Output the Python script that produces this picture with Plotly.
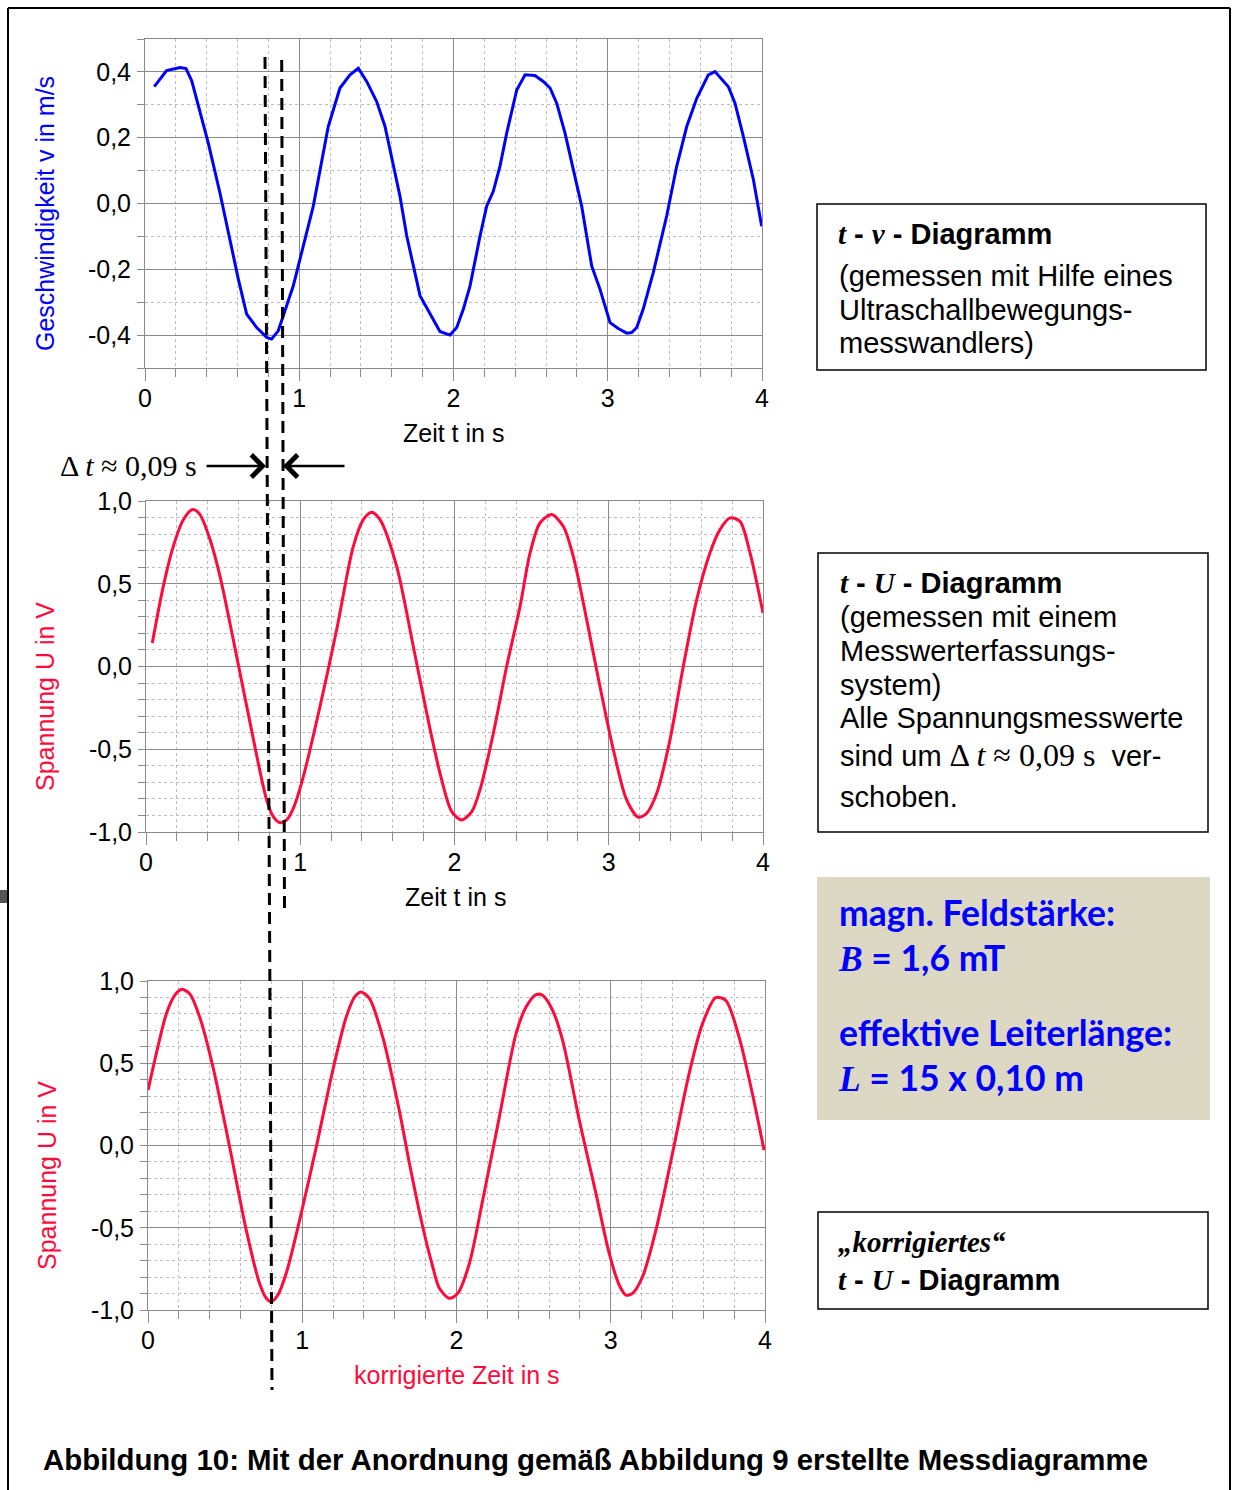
import plotly.graph_objects as go

W, H = 1236, 1490
SANS = "Liberation Sans, Arial, sans-serif"
SERIF = "Liberation Serif, Times New Roman, serif"
CAL = "Lato, Open Sans, sans-serif"
BLUE = "#0000ff"
RED = "#ff0a3c"

# ---------------- data ----------------
t_v = [0.06, 0.14, 0.227, 0.266, 0.303, 0.41, 0.486, 0.605, 0.659, 0.724, 0.789, 0.821, 0.864, 0.897,
       0.961, 1.091, 1.188, 1.264, 1.329, 1.383, 1.437, 1.502, 1.556, 1.653, 1.697, 1.783, 1.869, 1.912,
       1.977, 2.021, 2.064, 2.107, 2.172, 2.215, 2.258, 2.301, 2.345, 2.41, 2.464, 2.528, 2.582, 2.626,
       2.669, 2.723, 2.777, 2.831, 2.896, 2.95, 3.015, 3.068, 3.123, 3.155, 3.188, 3.23, 3.295, 3.382,
       3.447, 3.512, 3.577, 3.652, 3.695, 3.782, 3.825, 3.879, 3.944, 3.998]
v = [0.355, 0.404, 0.413, 0.41, 0.373, 0.184, 0.032, -0.23, -0.336, -0.377, -0.407, -0.412, -0.387, -0.341,
     -0.251, -0.008, 0.234, 0.351, 0.391, 0.411, 0.371, 0.31, 0.234, 0.022, -0.099, -0.28, -0.352, -0.389,
     -0.4, -0.377, -0.321, -0.251, -0.099, -0.008, 0.037, 0.113, 0.214, 0.345, 0.391, 0.389, 0.371, 0.351,
     0.305, 0.214, 0.103, -0.008, -0.19, -0.261, -0.362, -0.38, -0.394, -0.392, -0.377, -0.321, -0.21, -0.038,
     0.113, 0.234, 0.32, 0.391, 0.401, 0.355, 0.305, 0.204, 0.073, -0.069]

t_u = [0.041, 0.112, 0.177, 0.242, 0.303, 0.35, 0.415, 0.48, 0.566, 0.675, 0.782, 0.825, 0.869, 0.912,
       0.955, 1.02, 1.128, 1.236, 1.344, 1.409, 1.463, 1.517, 1.625, 1.733, 1.82, 1.906, 1.982, 2.047,
       2.112, 2.165, 2.252, 2.338, 2.425, 2.49, 2.554, 2.63, 2.705, 2.77, 2.857, 2.943, 3.03, 3.116, 3.192,
       3.246, 3.311, 3.397, 3.483, 3.57, 3.656, 3.721, 3.786, 3.851, 3.916, 4.0]
u = [0.142, 0.484, 0.726, 0.887, 0.948, 0.918, 0.767, 0.545, 0.162, -0.342, -0.806, -0.907, -0.944, -0.927,
     -0.857, -0.665, -0.242, 0.222, 0.726, 0.887, 0.932, 0.887, 0.605, 0.121, -0.282, -0.645, -0.877, -0.927,
     -0.877, -0.746, -0.403, 0.0, 0.363, 0.686, 0.867, 0.918, 0.847, 0.665, 0.283, -0.121, -0.504, -0.806, -0.911,
     -0.887, -0.766, -0.443, 0.0, 0.403, 0.686, 0.827, 0.898, 0.877, 0.686, 0.323]

t_k = [0.0, 0.054, 0.119, 0.173, 0.216, 0.27, 0.335, 0.421, 0.529, 0.637, 0.723, 0.767, 0.799, 0.842,
       0.896, 0.983, 1.091, 1.198, 1.285, 1.339, 1.382, 1.436, 1.522, 1.63, 1.695, 1.781, 1.846, 1.889,
       1.954, 2.008, 2.084, 2.17, 2.278, 2.386, 2.451, 2.516, 2.558, 2.623, 2.688, 2.796, 2.904, 2.99, 3.055,
       3.098, 3.141, 3.206, 3.293, 3.4, 3.508, 3.595, 3.681, 3.746, 3.832, 3.918, 3.994]
u_k = [0.336, 0.559, 0.801, 0.913, 0.949, 0.923, 0.781, 0.478, -0.008, -0.514, -0.838, -0.929, -0.95, -0.909,
       -0.777, -0.454, -0.008, 0.457, 0.781, 0.902, 0.933, 0.893, 0.659, 0.209, -0.109, -0.494, -0.737, -0.868,
       -0.929, -0.899, -0.716, -0.332, 0.174, 0.68, 0.842, 0.917, 0.913, 0.822, 0.639, 0.154, -0.291, -0.656, -0.848,
       -0.909, -0.899, -0.798, -0.514, -0.049, 0.437, 0.741, 0.899, 0.882, 0.659, 0.316, -0.029]

x_ticks = [0, 1, 2, 3, 4]
x_labels = ["0", "1", "2", "3", "4"]
v_ticks = [-0.4, -0.2, 0.0, 0.2, 0.4]
v_labels = ["-0,4", "-0,2", "0,0", "0,2", "0,4"]
u_ticks = [-1.0, -0.5, 0.0, 0.5, 1.0]
u_labels = ["-1,0", "-0,5", "0,0", "0,5", "1,0"]

# ---------------- helpers ----------------
def px(x):
    return x / W

def py(y):
    return 1 - y / H

GRID = "#8a8a8a"
MINOR = "#bcbcbc"

def xaxis(x0, x1, y_anchor):
    return dict(domain=[px(x0), px(x1)], anchor=y_anchor, range=[0, 4], automargin=False,
                tickvals=x_ticks, ticktext=x_labels,
                showgrid=True, gridcolor=GRID, gridwidth=1, zeroline=False,
                showline=True, linecolor=GRID, linewidth=1, mirror=True,
                ticks="outside", ticklen=12, tickcolor=GRID, ticklabelstandoff=-4,
                tickfont=dict(family=SANS, size=25, color="black"),
                minor=dict(dtick=0.2, tick0=0, showgrid=True, gridcolor=MINOR, griddash="dot",
                           gridwidth=1, ticks="outside", ticklen=8, tickcolor=GRID))

def yaxis(y0, y1, x_anchor, rng, tv, tt):
    return dict(domain=[py(y1), py(y0)], anchor=x_anchor, range=rng, automargin=False,
                tickvals=tv, ticktext=tt,
                showgrid=True, gridcolor=GRID, gridwidth=1, zeroline=False,
                showline=True, linecolor=GRID, linewidth=1, mirror=True,
                ticks="outside", ticklen=7, tickcolor=GRID, ticklabelstandoff=1,
                tickfont=dict(family=SANS, size=25, color="black"),
                minor=dict(dtick=0.1, tick0=0, showgrid=True, gridcolor=MINOR, griddash="dot",
                           gridwidth=1, ticks="outside", ticklen=7, tickcolor=GRID))

fig = go.Figure()
fig.add_trace(go.Scatter(x=t_v, y=v, mode="lines", line=dict(color=BLUE, width=3),
                         xaxis="x", yaxis="y", hoverinfo="skip"))
fig.add_trace(go.Scatter(x=t_u, y=u, mode="lines", line=dict(color=RED, width=3, shape="spline", smoothing=0.8),
                         xaxis="x2", yaxis="y2", hoverinfo="skip"))
fig.add_trace(go.Scatter(x=t_k, y=u_k, mode="lines", line=dict(color=RED, width=3, shape="spline", smoothing=0.8),
                         xaxis="x3", yaxis="y3", hoverinfo="skip"))

layout = dict(template="none", width=W, height=H, autosize=False,
              margin=dict(l=0, r=0, t=0, b=0, pad=0, autoexpand=False),
              paper_bgcolor="white", plot_bgcolor="white", showlegend=False,
              xaxis=xaxis(145, 762, "y"), yaxis=yaxis(39, 368, "x", [-0.5, 0.5], v_ticks, v_labels),
              xaxis2=xaxis(146, 763, "y2"), yaxis2=yaxis(501, 832, "x2", [-1, 1], u_ticks, u_labels),
              xaxis3=xaxis(148, 765, "y3"), yaxis3=yaxis(981, 1310, "x3", [-1, 1], u_ticks, u_labels))
fig.update_layout(**layout)

ann = []

def text(x, y, s, size=29, family=SANS, color="black", angle=0, xanchor="left"):
    ann.append(dict(x=px(x), y=py(y), xref="paper", yref="paper", text=s, showarrow=False,
                    xanchor=xanchor, yanchor="middle", align="left", textangle=angle,
                    font=dict(family=family, size=size, color=color)))

# axis titles
text(45, 214, "Geschwindigkeit v in m/s", 25, SANS, BLUE, -90, "center")
text(45, 697, "Spannung U in V", 25, SANS, RED, -90, "center")
text(47, 1176, "Spannung U in V", 25, SANS, RED, -90, "center")
text(453, 433, "Zeit t in s", 25, SANS, "black", 0, "center")
text(455, 897, "Zeit t in s", 25, SANS, "black", 0, "center")
text(457, 1375, "korrigierte Zeit in s", 25, SANS, RED, 0, "center")

# delta t label
text(58, 465, "Δ <i>t</i> ≈ 0,09 s", 30, SERIF)

ser = lambda s: '<span style="font-family:Liberation Serif, Times New Roman, serif"><b><i>%s</i></b></span>' % s

# box 1
text(836, 234, ser("t") + "<b> - </b>" + ser("v") + "<b> - Diagramm</b>", 29)
text(837, 276, "(gemessen mit Hilfe eines", 29)
text(837, 310, "Ultraschallbewegungs-", 29)
text(837, 343, "messwandlers)", 29)

# box 2
text(838, 583, ser("t") + "<b> - </b>" + ser("U") + "<b> - Diagramm</b>", 29)
text(838, 617, "(gemessen mit einem", 29)
text(838, 651, "Messwerterfassungs-", 29)
text(838, 685, "system)", 29)
text(838, 718, "Alle Spannungsmesswerte", 29)
text(838, 755, 'sind um <span style="font-family:Liberation Serif, Times New Roman, serif;font-size:32px">Δ <i>t</i> ≈ 0,09 s</span>  ver-', 29)
text(838, 797, "schoben.", 29)

# magnetic box
text(837, 912, "<b>magn. Feldstärke:</b>", 35.5, CAL, BLUE)
text(836, 957, ser("B") + "<b> = 1,6 mT</b>", 35.5, CAL, BLUE)
text(837, 1032, "<b>effektive Leiterlänge:</b>", 35.5, CAL, BLUE)
text(836, 1077, ser("L") + "<b> = 15 x 0,10 m</b>", 35.5, CAL, BLUE)

# box 3
text(836, 1242, ser("„korrigiertes“"), 29)
text(836, 1280, ser("t") + "<b> - </b>" + ser("U") + "<b> - Diagramm</b>", 29)

# caption
text(41, 1459, "<b>Abbildung 10: Mit der Anordnung gemäß Abbildung 9 erstellte Messdiagramme</b>", 29.4)

# arrows
for hx, tail in [(266, -61), (283, 63)]:
    ann.append(dict(x=px(hx), y=py(466), xref="paper", yref="paper", ax=tail, ay=0, text="",
                    showarrow=True, arrowhead=4, arrowsize=1.8, arrowwidth=2.4, arrowcolor="black"))

fig.update_layout(annotations=ann)

shapes = []
# boxes
shapes.append(dict(type="rect", xref="paper", yref="paper", x0=px(817), x1=px(1206), y0=py(370), y1=py(204),
                   line=dict(color="black", width=1.5), fillcolor="rgba(0,0,0,0)", layer="below"))
shapes.append(dict(type="rect", xref="paper", yref="paper", x0=px(818), x1=px(1208), y0=py(832), y1=py(553),
                   line=dict(color="black", width=1.5), fillcolor="rgba(0,0,0,0)", layer="below"))
shapes.append(dict(type="rect", xref="paper", yref="paper", x0=px(817), x1=px(1210), y0=py(1120), y1=py(877),
                   line=dict(width=0), fillcolor="#ddd8c3", layer="below"))
shapes.append(dict(type="rect", xref="paper", yref="paper", x0=px(818), x1=px(1208), y0=py(1309), y1=py(1212),
                   line=dict(color="black", width=1.5), fillcolor="rgba(0,0,0,0)", layer="below"))
# outer frame
for (x0, y0, x1, y1) in [(8, 8, 8, 1490), (8, 8, 1230, 8), (1230, 8, 1230, 1490)]:
    shapes.append(dict(type="line", xref="paper", yref="paper", x0=px(x0), y0=py(y0), x1=px(x1), y1=py(y1),
                       line=dict(color="black", width=2)))
shapes.append(dict(type="rect", xref="paper", yref="paper", x0=0, x1=px(7), y0=py(903), y1=py(890),
                   line=dict(width=0), fillcolor="#555555"))
# dashed guide lines
shapes.append(dict(type="line", xref="paper", yref="paper", x0=px(265), y0=py(57), x1=px(272), y1=py(1390),
                   line=dict(color="black", width=3, dash="12px,7px"), layer="above"))
shapes.append(dict(type="line", xref="paper", yref="paper", x0=px(281.7), y0=py(60), x1=px(284.5), y1=py(912),
                   line=dict(color="black", width=3, dash="12px,7px"), layer="above"))
fig.update_layout(shapes=shapes)

post = ("document.documentElement.style.margin='0';document.documentElement.style.overflow='hidden';"
        "document.body.style.margin='0';document.body.style.padding='0';document.body.style.overflow='hidden';"
        "var d=document.getElementsByClassName('plotly-graph-div')[0];"
        "d.style.position='fixed';d.style.left='0px';d.style.top='0px';")
fig.write_html("out.html", post_script=post, config={"displayModeBar": False, "staticPlot": True})
